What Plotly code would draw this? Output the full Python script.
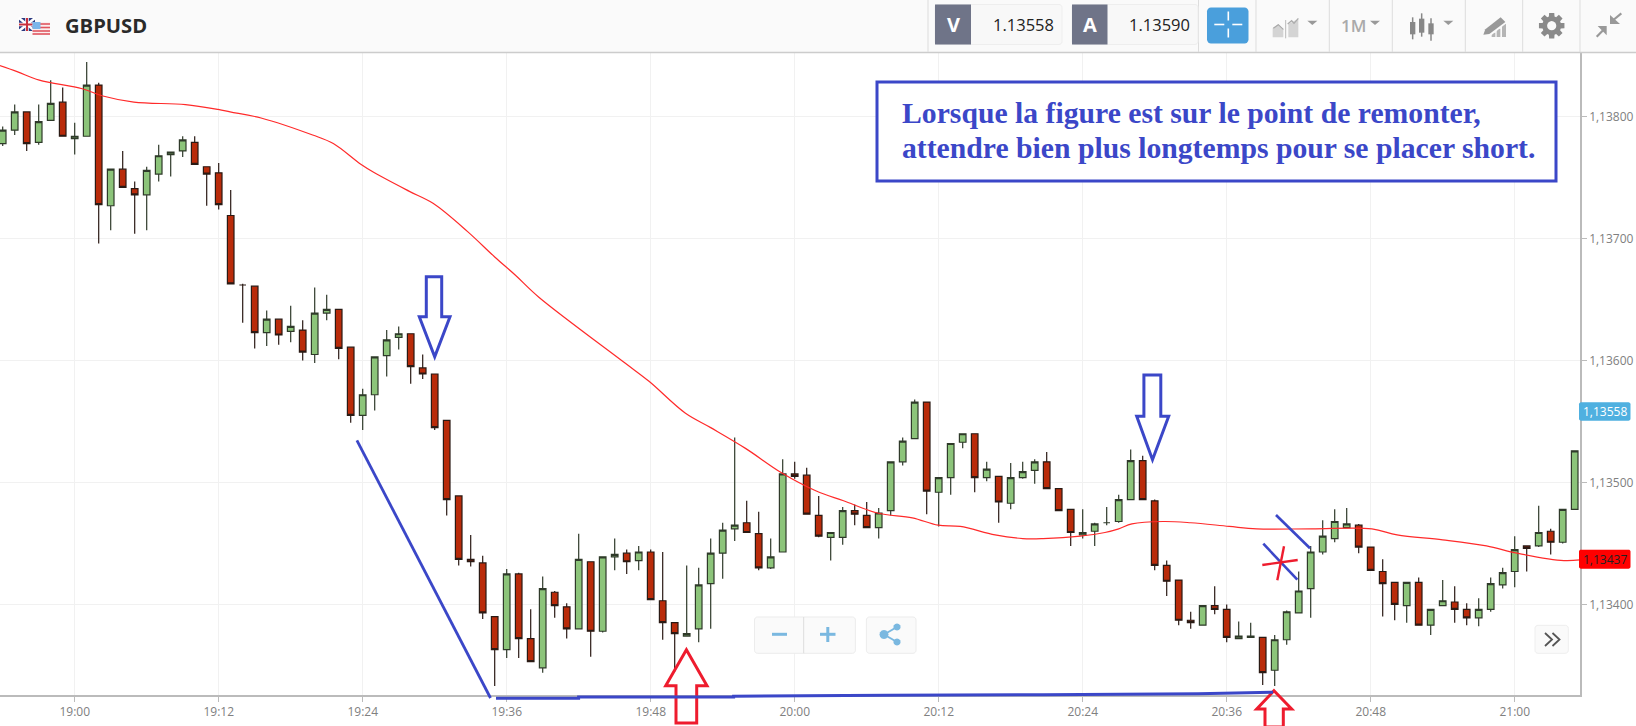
import math
import pandas as pd
import plotly.graph_objects as go

W, H = 1636, 726
ML, MR, MT, MB = 0, 56, 53, 31

first_candle = "2019-01-15 18:54"

opens = [1.13778,1.13789,1.13804,1.13779,1.13797,1.13812,1.13782,1.13784,1.13826,1.13727,1.13757,1.13741,1.13736,1.13753,1.13769,1.13772,1.13779,1.13759,1.13754,1.13719,1.13662,1.13661,1.13623,1.13634,
 1.13624,1.13625,1.13605,1.13639,1.13642,1.13611,1.13555,1.13572,1.13604,1.13619,1.13622,1.13594,1.13589,
 1.13551,1.13489,1.13437,1.13434,1.13390,1.13363,1.13425,1.13372,1.13348,1.13410,1.13398,1.13380,1.13435,1.13378,1.13439,1.13442,1.13436,1.13443,1.13403,1.13385,1.13374,1.13380,1.13417,1.13442,1.13462,1.13467,1.13458,1.13430,1.13443,1.13507,1.13506,1.13473,1.13455,1.13455,1.13477,1.13473,
 1.13463,1.13477,1.13517,1.13536,1.13566,1.13492,1.13504,1.13533,1.13540,1.13504,1.13505,1.13483,1.13504,1.13510,1.13517,1.13495,1.13478,1.13457,1.13460,1.13467,1.13468,1.13486,1.13518,1.13485,1.13432,1.13420,1.13387,1.13383,1.13399,1.13396,1.13372,1.13373,1.13373,1.13346,
 1.13371,1.13393,1.13413,1.13443,1.13454,1.13463,1.13465,1.13447,1.13427,1.13418,1.13399,1.13418,1.13383,1.13399,1.13402,1.13396,1.13389,1.13396,1.13416,1.13427,1.13448,1.13448,1.13460,1.13451,1.13478]
highs = [1.13792,1.13810,1.13804,1.13810,1.13830,1.13824,1.13795,1.13845,1.13828,1.13757,1.13772,1.13747,1.13759,1.13777,1.13771,1.13784,1.13784,1.13759,1.13762,1.13740,1.13663,1.13661,1.13641,1.13634,
 1.13645,1.13633,1.13660,1.13654,1.13642,1.13611,1.13577,1.13603,1.13625,1.13628,1.13622,1.13605,1.13589,
 1.13551,1.13489,1.13457,1.13440,1.13390,1.13429,1.13426,1.13396,1.13423,1.13411,1.13401,1.13458,1.13435,1.13439,1.13454,1.13445,1.13448,1.13445,1.13443,1.13385,1.13432,1.13430,1.13454,1.13467,1.13537,1.13485,1.13476,1.13454,1.13519,1.13517,1.13512,1.13489,1.13459,1.13480,1.13482,1.13484,
 1.13479,1.13517,1.13537,1.13568,1.13566,1.13504,1.13532,1.13540,1.13540,1.13517,1.13505,1.13516,1.13517,1.13519,1.13525,1.13495,1.13478,1.13478,1.13467,1.13480,1.13490,1.13527,1.13522,1.13486,1.13436,1.13420,1.13394,1.13399,1.13415,1.13400,1.13386,1.13385,1.13373,1.13375,
 1.13395,1.13427,1.13448,1.13469,1.13478,1.13479,1.13466,1.13447,1.13437,1.13418,1.13418,1.13422,1.13396,1.13420,1.13415,1.13401,1.13405,1.13422,1.13430,1.13456,1.13448,1.13481,1.13462,1.13478,1.13526]
lows = [1.13776,1.13785,1.13772,1.13777,1.13797,1.13784,1.13769,1.13784,1.13696,1.13707,1.13742,1.13704,1.13707,1.13747,1.13751,1.13767,1.13761,1.13727,1.13724,1.13663,1.13631,1.13610,1.13612,1.13613,
 1.13615,1.13600,1.13598,1.13633,1.13601,1.13549,1.13543,1.13559,1.13587,1.13609,1.13581,1.13585,1.13543,
 1.13473,1.13432,1.13431,1.13388,1.13333,1.13356,1.13356,1.13353,1.13344,1.13389,1.13372,1.13380,1.13357,1.13377,1.13428,1.13425,1.13428,1.13404,1.13371,1.13345,1.13374,1.13369,1.13380,1.13421,1.13452,1.13459,1.13428,1.13429,1.13443,1.13503,1.13474,1.13455,1.13436,1.13449,1.13465,1.13463,
 1.13454,1.13473,1.13514,1.13536,1.13474,1.13464,1.13490,1.13528,1.13492,1.13501,1.13467,1.13478,1.13503,1.13499,1.13495,1.13477,1.13448,1.13454,1.13448,1.13465,1.13467,1.13486,1.13486,1.13428,1.13407,1.13383,1.13380,1.13383,1.13392,1.13369,1.13372,1.13373,1.13334,1.13333,
 1.13367,1.13393,1.13389,1.13441,1.13451,1.13463,1.13442,1.13428,1.13390,1.13387,1.13385,1.13383,1.13375,1.13399,1.13385,1.13383,1.13382,1.13394,1.13413,1.13414,1.13427,1.13447,1.13441,1.13450,1.13478]
closes = [1.13789,1.13804,1.13778,1.13796,1.13811,1.13784,1.13784,1.13826,1.13728,1.13757,1.13742,1.13736,1.13756,1.13768,1.13771,1.13781,1.13761,1.13753,1.13728,1.13663,1.13662,1.13623,1.13634,1.13621,
 1.13628,1.13607,1.13639,1.13642,1.13610,1.13555,1.13572,1.13603,1.13617,1.13622,1.13595,1.13589,1.13545,
 1.13486,1.13437,1.13435,1.13393,1.13363,1.13425,1.13372,1.13353,1.13413,1.13399,1.13380,1.13437,1.13378,1.13439,1.13441,1.13435,1.13443,1.13404,1.13385,1.13376,1.13376,1.13416,1.13442,1.13461,1.13465,1.13459,1.13430,1.13439,1.13507,1.13505,1.13474,1.13456,1.13459,1.13477,1.13474,1.13463,
 1.13475,1.13517,1.13534,1.13566,1.13493,1.13504,1.13532,1.13540,1.13504,1.13511,1.13484,1.13504,1.13509,1.13517,1.13495,1.13477,1.13459,1.13459,1.13466,1.13467,1.13486,1.13518,1.13486,1.13432,1.13419,1.13387,1.13385,1.13399,1.13396,1.13373,1.13374,1.13374,1.13344,1.13371,
 1.13394,1.13411,1.13443,1.13456,1.13468,1.13466,1.13447,1.13428,1.13417,1.13400,1.13418,1.13383,1.13396,1.13403,1.13396,1.13389,1.13396,1.13417,1.13426,1.13445,1.13446,1.13459,1.13451,1.13478,1.13526]

ma_minutes = [-6.25,-4.8,-2.95,0.63,2.35,4.93,9.23,11.95,12.95,15.53,19.83,21.55,23.84,24.98,27.85,29.86,32.72,35.0,36.73,38.68,45.86,47.86,50.87,53,55.9,58.9,61.8,64.07,66.9,69.8,71.95,73.8,76.7,79,80.7,83.8,85.85,87,88.1,90.7,93,96.2,98.5,103.1,108.1,110.2,114,117.65,120.2,124.1,125.8]
ma_values = [1.13842,1.13837,1.13830,1.13823,1.13817,1.13812,1.13810,1.13806,1.13804,1.13799,1.13785,1.13778,1.13761,1.13754,1.13739,1.13729,1.13706,1.13685,1.13670,1.13652,1.13598,1.13583,1.13557,1.13545,1.13528,1.13508,1.13493,1.13485,1.13475,1.13471,1.13465,1.13464,1.13457,1.13454,1.13454,1.13456,1.13459,1.13462,1.13466,1.13468,1.13467,1.13464,1.13462,1.13462,1.13462,1.13457,1.13453,1.13448,1.13442,1.13436,1.13437]

y_ticks = [1.134, 1.135, 1.136, 1.137, 1.138]
symbol = "GBPUSD"
bid, ask = "1.13558", "1.13590"
current_bid_label, current_ma_label = "1,13558", "1,13437"
note_lines = ["Lorsque la figure est sur le point de remonter,",
              "attendre bien plus longtemps pour se placer short."]

BLUE = "#3b47c8"; RED = "#ee1c2e"; GREY = "#9a9a9a"; LBLUE = "#7ab8e0"; BAR = "#fafafa"
base = pd.Timestamp("2019-01-15 19:00")
times = pd.date_range(first_candle, periods=len(opens), freq="min")
ma_times = [base + pd.Timedelta(minutes=m) for m in ma_minutes]

def px(X): return (X - ML) / (W - ML - MR)
def py(Y): return 1 - (Y - MT) / (H - MT - MB)

shapes, annos = [], []

def poly(points, fill=None, line=None, lw=0, close=True):
    d = "M " + " L ".join(f"{px(x):.5f} {py(y):.5f}" for x, y in points) + (" Z" if close else "")
    s = dict(type="path", path=d, xref="paper", yref="paper", layer="above", line=dict(color=line or "rgba(0,0,0,0)", width=lw))
    if fill: s["fillcolor"] = fill
    shapes.append(s)

def rect(x0, y0, x1, y1, fill=None, line=None, lw=0):
    s = dict(type="rect", xref="paper", yref="paper", x0=px(x0), x1=px(x1), y0=py(y1), y1=py(y0), layer="above",
             line=dict(color=line or "rgba(0,0,0,0)", width=lw))
    if fill: s["fillcolor"] = fill
    shapes.append(s)

def rrect(x0, y0, x1, y1, r, fill=None, line=None, lw=0):
    pts = []
    corners = [(x1 - r, y0 + r, -90), (x1 - r, y1 - r, 0), (x0 + r, y1 - r, 90), (x0 + r, y0 + r, 180)]
    for cx, cy, a in corners:
        for k in range(5):
            t = math.radians(a + k * 22.5)
            pts.append((cx + r * math.cos(t), cy + r * math.sin(t)))
    poly(pts, fill, line, lw)

def seg(x0, y0, x1, y1, color, lw):
    poly([(x0, y0), (x1, y1)], None, color, lw, close=False)

def text(X, Y, s, size, color, anchor="center", family="Open Sans", weight=None):
    f = dict(size=size, color=color, family=family)
    if weight: f["weight"] = weight
    annos.append(dict(xref="paper", yref="paper", x=px(X), y=py(Y), text=s, showarrow=False,
                      xanchor=anchor, yanchor="middle", font=f, borderpad=0, borderwidth=0))

# toolbar
rect(0, 0, W, 52, BAR)
seg(0, 52.5, W, 52.5, "#cccccc", 1.5)
for X in [928, 1198.5, 1256, 1329.3, 1392.3, 1465.3, 1522.7, 1580]:
    seg(X, 0, X, 52, "#dddddd", 1)

# flags
rect(19, 18, 35, 31, "#2b3a80")
seg(19, 18, 35, 31, "#ffffff", 2.5); seg(19, 31, 35, 18, "#ffffff", 2.5)
seg(27, 18, 27, 31, "#ffffff", 3.5); seg(19, 24.5, 35, 24.5, "#ffffff", 3.5)
seg(27, 18, 27, 31, "#c8303c", 2); seg(19, 24.5, 35, 24.5, "#c8303c", 2)
rect(32.5, 22, 50, 35, "#fbeeee")
for Y in [24, 27.5, 31, 34]:
    seg(32.5, Y, 50, Y, "#e0555f", 1.6)
rect(32.5, 22, 40.5, 29, "#7cb6ea")
text(65, 25, symbol, 20.2, "#2a2a2a", "left", weight=700)

# bid / ask boxes
rrect(935, 4.5, 1062, 44.5, 3, "#f8f8f8", "#eeeeee", 1)
rect(935, 4.5, 971, 44.5, "#6f7488")
text(953, 25, "V", 20, "#ffffff", weight=700)
text(1053.5, 25, bid, 16.5, "#222222", "right", weight=500)
rrect(1072, 4.5, 1198, 44.5, 3, "#f8f8f8", "#eeeeee", 1)
rect(1072, 4.5, 1107.5, 44.5, "#6f7488")
text(1090, 25, "A", 20, "#ffffff", weight=700)
text(1190, 25, ask, 16.5, "#222222", "right", weight=500)

# crosshair button
rrect(1207, 7.5, 1248.5, 43.5, 4, "#4a9fdc")
cx, cy = 1228.3, 24.5
seg(cx - 14, cy, cx - 4, cy, "#ffffff", 1.6); seg(cx + 4, cy, cx + 14, cy, "#ffffff", 1.6)
seg(cx, cy - 13, cx, cy - 4, "#ffffff", 1.6); seg(cx, cy + 4, cx, cy + 13, "#ffffff", 1.6)

# toolbar icons (reference pixel positions)
def z7(x, y): return (1220 + x / 3, y / 3)
poly([z7(*p) for p in [(158, 112), (158, 85), (175, 72), (190, 88), (190, 112)]], "#d4d4d4")
poly([z7(*p) for p in [(205, 112), (205, 72), (235, 56), (235, 112)]], "#d4d4d4")
poly([z7(*p) for p in [(160, 85), (175, 74), (190, 88)]], None, "#aaaaaa", 1.2, close=False)
poly([z7(*p) for p in [(203, 72), (215, 62), (222, 70), (235, 55)]], None, "#aaaaaa", 1.2, close=False)
seg(*z7(197, 60), *z7(197, 115), "#bbbbbb", 1)
for tx in [262, 450, 670]:
    poly([z7(tx, 62), z7(tx + 30, 62), z7(tx + 15, 75)], "#999999")
text(1353, 26, "1M", 17, "#aaaaaa", weight=600)
for bx, b0, b1, w0, w1 in [(578, 66, 103, 52, 118), (605, 56, 98, 40, 110), (633, 70, 103, 55, 122)]:
    seg(*z7(bx, w0), *z7(bx, w1), "#888888", 1.5)
    rect(*z7(bx - 8, b0), *z7(bx + 8, b1), "#888888")
for bx0, bx1, by0 in [(815, 826, 98), (830, 841, 86), (846, 858, 72)]:
    rect(*z7(bx0, by0), *z7(bx1, 111), "#b5b5b5")
seg(*z7(792, 106), *z7(850, 60), BAR, 9)
poly([z7(*p) for p in [(790, 104), (796, 88), (842, 52), (856, 66), (808, 102)]], "#999999")

gx, gy = 1551.7, 25.7
gear = []
for k in range(8):
    a = k * math.pi / 4
    for da, r in [(-0.30, 9.5), (-0.20, 13), (0.20, 13), (0.30, 9.5)]:
        gear.append((gx + r * math.cos(a + da), gy + r * math.sin(a + da)))
poly(gear, "#8a8a8a")
poly([(gx + 4.6 * math.cos(k * math.pi / 8), gy + 4.6 * math.sin(k * math.pi / 8)) for k in range(16)], BAR)
poly([z7(*p) for p in [(1170, 72), (1170, 45), (1200, 72)]], "#999999")
seg(*z7(1180, 60), *z7(1204, 40), "#999999", 2.2)
poly([z7(*p) for p in [(1160, 78), (1133, 78), (1160, 106)]], "#999999")
seg(*z7(1150, 90), *z7(1130, 110), "#999999", 2.2)

# note box
rect(877, 82, 1556, 181, "#ffffff", BLUE, 3)
text(902, 113, note_lines[0], 29.7, BLUE, "left", family="Liberation Serif", weight=700)
text(902, 148, note_lines[1], 29.7, BLUE, "left", family="Liberation Serif", weight=700)

# hand-drawn overlays
poly([(426.3, 276.7), (441.7, 276.7), (441.7, 316.7), (450, 316.7), (434.7, 356.7), (419.3, 316.7), (426.3, 316.7)], None, BLUE, 3)
poly([(1143.9, 375), (1160.8, 375), (1160.8, 416.3), (1168.7, 416.3), (1152.5, 459.7), (1136.7, 416.3), (1143.9, 416.3)], None, BLUE, 3)
poly([(686.4, 649.7), (707, 685.7), (696.7, 685.7), (696.7, 723), (676, 723), (676, 685.7), (665.7, 685.7)], None, RED, 3)
poly([(1274, 690.7), (1291.7, 709), (1283.3, 709), (1283.3, 727), (1265, 727), (1265, 709), (1256.7, 709)], None, RED, 3)
seg(356.9, 440.3, 490.5, 698, BLUE, 2.8)
poly([(496, 698.3), (578.6, 698.3), (578.6, 697), (733.6, 697), (733.6, 696.3), (888, 695.3), (1043, 694.7), (1198, 693.7), (1273, 692.3)], None, BLUE, 3, close=False)
seg(1276, 515, 1310, 548.3, BLUE, 2.6)
seg(1263.3, 543.7, 1297.3, 579.7, BLUE, 2.6)
seg(1262.3, 565, 1297.7, 560, RED, 2.4)
seg(1284, 546.3, 1277.3, 580.3, RED, 2.4)

# floating buttons
rrect(754.5, 617, 855.4, 653.3, 3, "#fafafa", "#ececec", 1)
seg(803.7, 617, 803.7, 653.3, "#dddddd", 1)
seg(772, 634.3, 787, 634.3, LBLUE, 3)
seg(820, 634.3, 835.5, 634.3, LBLUE, 3)
seg(827.8, 627, 827.8, 642, LBLUE, 3)
rrect(866.4, 617, 916, 653.3, 3, "#fafafa", "#ececec", 1)
seg(884, 634.5, 897, 627, LBLUE, 2); seg(884, 634.5, 897, 642, LBLUE, 2)
for sx, sy, sr in [(884, 634.5, 4.5), (897, 627, 3.6), (897, 642, 3.6)]:
    poly([(sx + sr * math.cos(k * math.pi / 6), sy + sr * math.sin(k * math.pi / 6)) for k in range(12)], LBLUE)
rrect(1535, 625.3, 1568.3, 653.3, 3, "#fafafa", "#eeeeee", 1)
for off in [0, 7.5]:
    poly([(1545 + off, 633), (1552 + off, 639.5), (1545 + off, 646)], None, "#555555", 1.8, close=False)

# price tags
rrect(1579, 402.3, 1630.5, 420.7, 2, "#4fb0e0")
text(1605, 411.5, current_bid_label, 12, "#ffffff")
rrect(1579, 549.7, 1630.5, 568.7, 2, "#ff0000")
text(1605, 559.5, current_ma_label, 12, "#222222")

fig = go.Figure()
fig.add_trace(go.Candlestick(
    x=times, open=opens, high=highs, low=lows, close=closes, whiskerwidth=0,
    increasing=dict(line=dict(color="#2f3a2a", width=1.2), fillcolor="#8cc47a"),
    decreasing=dict(line=dict(color="#2a1a14", width=1.2), fillcolor="#b92b0a"),
    showlegend=False, hoverinfo="skip"))
fig.add_trace(go.Scatter(x=ma_times, y=ma_values, mode="lines", line=dict(color="#ff2a2a", width=1.2, shape="spline", smoothing=1.0),
                         showlegend=False, hoverinfo="skip"))

axis_font = dict(family="Open Sans", size=12, color="#808080")
fig.update_layout(
    width=W, height=H, autosize=False, margin=dict(l=ML, r=MR, t=MT, b=MB, pad=0),
    paper_bgcolor="#ffffff", plot_bgcolor="#ffffff", separators=", ", showlegend=False, boxgap=0.45, boxgroupgap=0,
    shapes=shapes, annotations=annos,
    xaxis=dict(type="date", range=["2019-01-15 18:53:46.5", "2019-01-15 21:05:26.5"], rangeslider=dict(visible=False),
               tick0="2019-01-15 19:00", dtick=720000, tickformat="%H:%M", showgrid=True, gridcolor="#f1f1f1", gridwidth=1,
               ticks="outside", ticklen=5, tickcolor="#bbbbbb", showline=True, linecolor="#bbbbbb", linewidth=1.5,
               tickfont=axis_font, zeroline=False),
    yaxis=dict(range=[1.133257, 1.138523], side="right", tickvals=y_ticks, tickformat=".5f", showgrid=True, gridcolor="#f1f1f1",
               ticks="outside", ticklen=5, tickcolor="#bbbbbb", showline=True, linecolor="#bbbbbb", linewidth=1.5,
               tickfont=axis_font, zeroline=False),
)
fig.write_html("out.html", post_script="document.body.style.margin='0';document.body.style.overflow='hidden';",
               config=dict(displayModeBar=False))
